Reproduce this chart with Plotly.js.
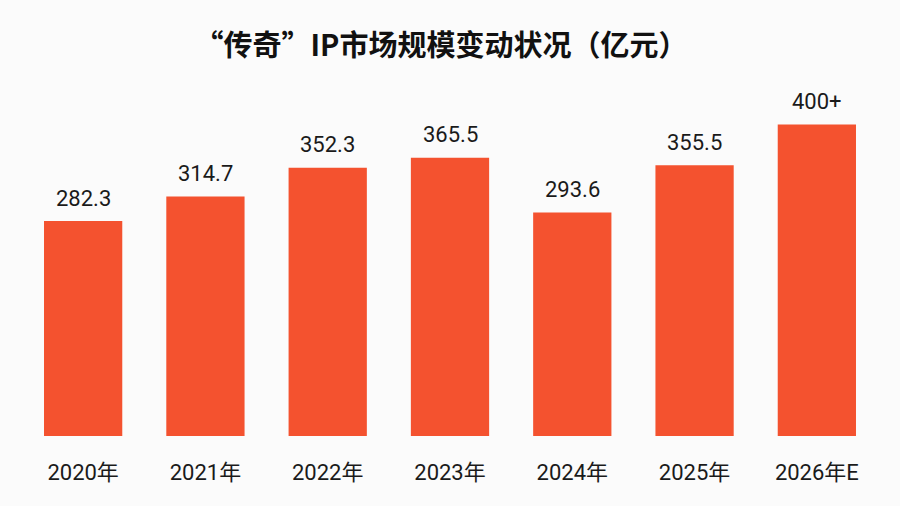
<!DOCTYPE html>
<html>
<head>
<meta charset="utf-8">
<script src="https://cdn.plot.ly/plotly-3.0.1.min.js"></script>
<style>html,body{margin:0;padding:0;background:#fbfbfb;}#chart{width:900px;height:506px;}</style>
</head>
<body>
<div id="chart"></div>
<script>
const categories = ["2020年", "2021年", "2022年", "2023年", "2024年", "2025年", "2026年E"];
const values = [282.3, 314.7, 352.3, 365.5, 293.6, 355.5, 409];
const valueLabels = ["282.3", "314.7", "352.3", "365.5", "293.6", "355.5", "400+"];
const chartTitle = "“传奇”IP市场规模变动状况（亿元）";

const labelFont = {family: "Roboto, 'Noto Sans CJK SC', sans-serif", size: 22, color: "#1a1a1a"};

const trace = {
  type: "bar",
  x: categories,
  y: values,
  marker: {color: "#F4522F"},
  hoverinfo: "none"
};

const annotations = categories.map((c, i) => ({
  x: c, y: values[i], xref: "x", yref: "y",
  text: valueLabels[i],
  showarrow: false,
  xanchor: "center", yanchor: "middle",
  yshift: 23,
  font: labelFont
}));

const layout = {
  width: 900,
  height: 506,
  paper_bgcolor: "#fbfbfb",
  plot_bgcolor: "#fbfbfb",
  margin: {l: 22, r: 22, t: 100.6, b: 70.3},
  bargap: 0.36,
  showlegend: false,
  annotations: annotations,
  title: {
    text: "<b>" + chartTitle + "</b>",
    x: 0.49, xanchor: "center",
    y: 0.91, yanchor: "middle",
    font: {family: "'Noto Sans CJK SC', sans-serif", size: 29, color: "#111111"}
  },
  xaxis: {
    showgrid: false, zeroline: false, showline: false,
    ticks: "",
    tickfont: labelFont,
    ticklabelstandoff: 21
  },
  yaxis: {
    range: [0, 440],
    visible: false,
    showgrid: false, zeroline: false
  }
};

Plotly.newPlot("chart", [trace], layout, {displayModeBar: false, staticPlot: true});
</script>
</body>
</html>
